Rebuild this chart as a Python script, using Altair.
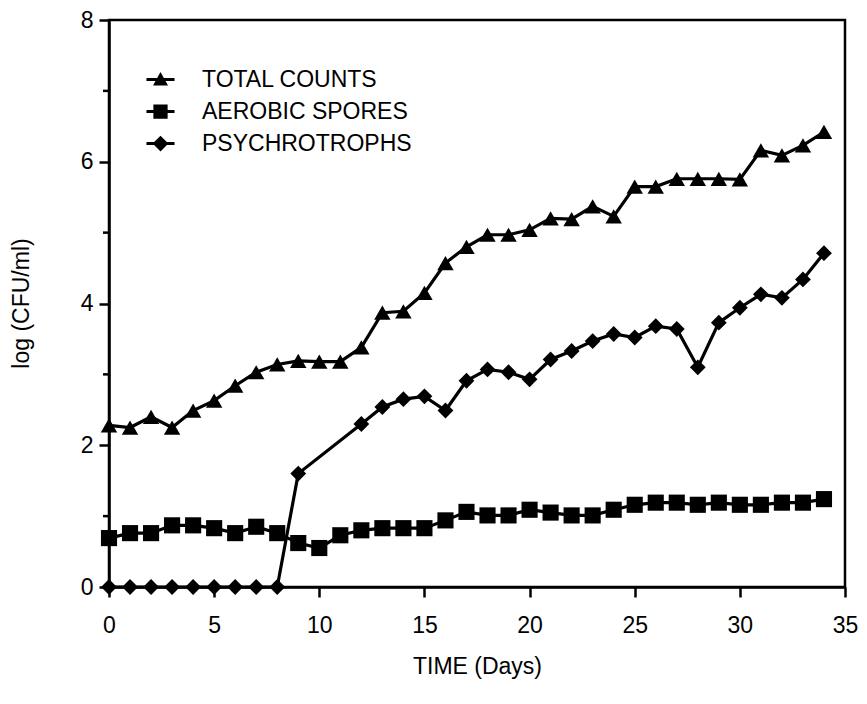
import altair as alt
import pandas as pd

# ---- data ----
days = list(range(35))
total_counts = [2.28, 2.25, 2.40, 2.25, 2.49, 2.63, 2.84, 3.03, 3.14, 3.19, 3.18, 3.18,
                3.38, 3.87, 3.89, 4.15, 4.57, 4.80, 4.97, 4.97, 5.04, 5.20, 5.19, 5.37,
                5.23, 5.65, 5.65, 5.76, 5.76, 5.76, 5.75, 6.16, 6.09, 6.23, 6.42]
aerobic_spores = [0.69, 0.76, 0.76, 0.87, 0.87, 0.83, 0.76, 0.85, 0.76, 0.62, 0.55, 0.73,
                  0.80, 0.83, 0.83, 0.83, 0.94, 1.06, 1.01, 1.01, 1.09, 1.05, 1.01, 1.01,
                  1.09, 1.16, 1.19, 1.19, 1.16, 1.19, 1.16, 1.16, 1.19, 1.19, 1.24]
psychro_days = list(range(10)) + list(range(12, 35))
psychrotrophs = [0, 0, 0, 0, 0, 0, 0, 0, 0, 1.60,
                 2.30, 2.54, 2.65, 2.69, 2.49, 2.91, 3.07, 3.03, 2.93, 3.21, 3.33, 3.47,
                 3.57, 3.52, 3.68, 3.64, 3.10, 3.73, 3.94, 4.13, 4.08, 4.34, 4.71]

series_names = ["TOTAL COUNTS", "AEROBIC SPORES", "PSYCHROTROPHS"]
x_ticks = [0, 5, 10, 15, 20, 25, 30, 35]
y_ticks = [0, 2, 4, 6, 8]
y_minor = [1, 3, 5, 7]

rows = []
for d, v in zip(days, total_counts):
    rows.append({"series": series_names[0], "day": d, "value": v})
for d, v in zip(days, aerobic_spores):
    rows.append({"series": series_names[1], "day": d, "value": v})
for d, v in zip(psychro_days, psychrotrophs):
    rows.append({"series": series_names[2], "day": d, "value": v})
df = pd.DataFrame(rows)
minor_df = pd.DataFrame({"value": y_minor})

FONT = "Liberation Sans"
LINE = "M-1.87,-0.2L1.87,-0.2L1.87,0.2L-1.87,0.2Z"
legend_paths = [
    LINE + " M0,-1L1,0.8L-1,0.8Z",
    LINE + " M-0.95,-0.95L0.95,-0.95L0.95,0.95L-0.95,0.95Z",
    LINE + " M0,-1.05L1.05,0L0,1.05L-1.05,0Z",
]

x_axis = alt.Axis(values=x_ticks, title="TIME (Days)", format="d", labelFlush=False,
                  labelPadding=17, titlePadding=18)
y_axis = alt.Axis(values=y_ticks, title="log (CFU/ml)", format="d", labelFlush=False,
                  labelPadding=6, titleX=-76, titleY=283)
x_enc = alt.X("day:Q", scale=alt.Scale(domain=[0, 35], nice=False), axis=x_axis)
y_enc = alt.Y("value:Q", scale=alt.Scale(domain=[0, 8], nice=False), axis=y_axis)

base = alt.Chart(df)

lines = base.mark_line(color="black", strokeWidth=3.2).encode(
    x=x_enc, y=y_enc, detail="series:N", order="day:Q")

points = base.mark_point(filled=True, color="black", opacity=1).encode(
    x=x_enc, y=y_enc,
    shape=alt.Shape("series:N", scale=alt.Scale(domain=series_names,
                                                range=["triangle-up", "square", "diamond"]),
                    legend=None),
    size=alt.Size("series:N", scale=alt.Scale(domain=series_names, range=[270, 250, 220]),
                  legend=None),
)

legend_carrier = base.transform_filter("false").mark_point(filled=True, color="black").encode(
    x=x_enc, y=y_enc,
    shape=alt.Shape("series:N",
                    scale=alt.Scale(domain=series_names, range=legend_paths),
                    legend=alt.Legend(orient="none", legendX=40, legendY=48, title=None,
                                      labelFont=FONT, labelFontSize=23, labelColor="black",
                                      labelLimit=500,
                                      symbolSize=225, symbolFillColor="black",
                                      symbolStrokeWidth=0, symbolOpacity=1,
                                      labelOffset=30, rowPadding=8, padding=0)),
)

minor_ticks = alt.Chart(minor_df).mark_rule(color="black", strokeWidth=2.5).encode(
    y=alt.Y("value:Q", scale=alt.Scale(domain=[0, 8], nice=False), axis=y_axis),
    x=alt.value(0), x2=alt.value(-6))

chart = alt.layer(lines, points, legend_carrier, minor_ticks).resolve_scale(
    shape="independent", size="independent"
).properties(
    width=736, height=567,
    autosize=alt.AutoSizeParams(type="none"),
    padding={"left": 101, "top": 12, "right": 14, "bottom": 100},
).configure_view(stroke="black", strokeWidth=2.5
).configure_axis(
    grid=False, tickSize=10, tickWidth=2.5, domainWidth=2.5, domainColor="black",
    tickColor="black", labelFont=FONT, labelFontSize=23, labelColor="black",
    titleFont=FONT, titleFontSize=23, titleFontWeight="normal", titleColor="black",
)

chart.save("out.html", embed_options={"renderer": "svg", "actions": False})
